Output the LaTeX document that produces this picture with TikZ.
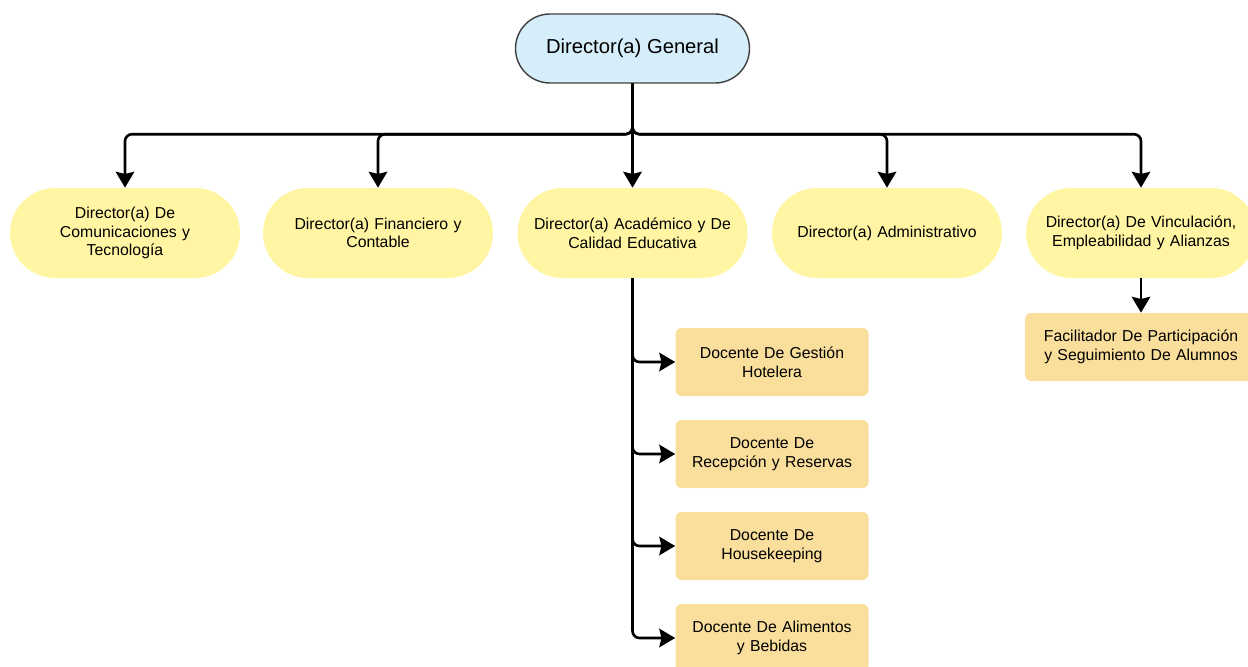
\documentclass[tikz,border=0pt]{standalone}
\usepackage{fontspec}
\setmainfont{Liberation Sans}
\usetikzlibrary{arrows.meta}
\usepackage{xcolor}
\definecolor{dgblue}{HTML}{D5EEFA}
\definecolor{diryellow}{HTML}{FFF5A2}
\definecolor{docorange}{HTML}{FADF9C}
\tikzset{
	dgbox/.style={rectangle,draw=black!75,line width=0.8pt,fill=dgblue,rounded corners=0.69cm,minimum width=4.68cm,minimum height=1.38cm,font=\fontsize{11.5}{14}\selectfont},
	dirbox/.style={rectangle,fill=diryellow,rounded corners=0.9cm,minimum width=4.6cm,minimum height=1.8cm,text width=4.3cm,align=center,font=\fontsize{9}{10.6}\selectfont},
	docbox/.style={rectangle,fill=docorange,rounded corners=0.12cm,minimum width=3.86cm,minimum height=1.36cm,text width=3.6cm,align=center,font=\fontsize{9}{10.6}\selectfont},
	conn/.style={-{Stealth[length=9pt,width=10.5pt,inset=1.2pt]},line width=1.5pt,rounded corners=0.14cm}
}
\begin{document}
\begin{tikzpicture}
				\useasboundingbox (0,0) rectangle (24.96,-13.34);
				\node (dg) [dgbox] at (12.65,-0.97) {Director(a) General};
				\node (com) [dirbox] at (2.5,-4.66) {Director(a) De\\Comunicaciones y\\Tecnología};
				\node (fin) [dirbox] at (7.56,-4.66) {Director(a) Financiero y\\Contable};
				\node (aca) [dirbox] at (12.65,-4.66) {Director(a) Académico y De\\Calidad Educativa};
				\node (adm) [dirbox] at (17.74,-4.66) {Director(a) Administrativo};
				\node (vin) [dirbox] at (22.82,-4.66) {Director(a) De Vinculación,\\Empleabilidad y Alianzas};
				\node (fac) [docbox,minimum width=4.6cm,text width=4.4cm] at (22.82,-6.94) {Facilitador De Participación\\y Seguimiento De Alumnos};
				\node (hot) [docbox] at (15.44,-7.24) {Docente De Gestión\\Hotelera};
				\node (rec) [docbox] at (15.44,-9.08) {Docente De\\Recepción y Reservas};
				\node (hou) [docbox] at (15.44,-10.92) {Docente De\\Housekeeping};
				\node (ali) [docbox] at (15.44,-12.76) {Docente De Alimentos\\y Bebidas};
				% bus from the top
				\foreach \d in {com,fin,aca,adm,vin}
					\draw [conn] (dg.south) -- ++(0,-1.01) -| (\d.north);
				\draw [conn] (vin.south) -- (fac.north);
				% teachers
				\foreach \d in {hot,rec,hou,ali}
					\draw [conn] (aca.south) |- (\d.west);
			\end{tikzpicture}
\end{document}
